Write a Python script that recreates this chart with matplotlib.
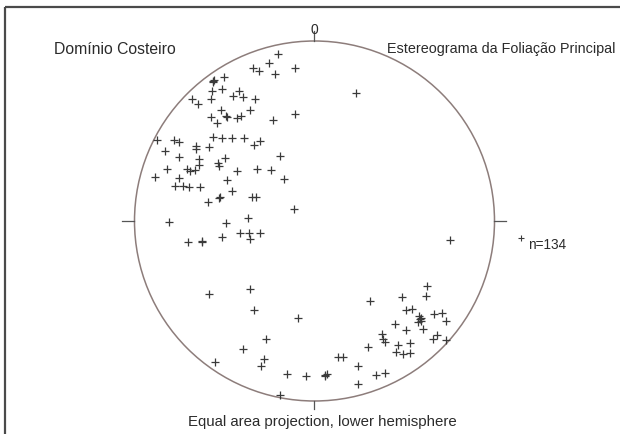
import numpy as np
import matplotlib.pyplot as plt
from matplotlib.patches import Circle

plt.rcParams['font.family'] = ['Liberation Sans', 'DejaVu Sans']

# Poles to the main foliation, equal-area projected coordinates
# (east, north), primitive circle radius R = 180
R = 180
east = [-36, -45, -19, -61, -55, -39, -100, -101, -90, -92,
        -102, -75, -81, -71, -59, -122, -116, -103, -93, -64,
        -103, -88, -77, -73, -97, -41, -19, -101, -92, -82,
        -70, -54, -60, -157, -140, -135, -118, -118, -105, -149,
        -135, -115, -89, -96, -95, -115, -147, -127, -124, -119,
        -77, -57, -43, -34, -159, -135, -30, -87, -139, -131,
        -125, -114, -82, -95, -94, -62, -58, -106, -20, -145,
        -88, -66, -92, -74, -65, -54, -64, -126, -112, -112,
        -105, -64, -60, -16, -48, -71, -50, -53, -99, -27,
        -8, 11, 13, 24, 29, 44, 44, 54, 56, -34,
        113, 112, 88, 92, 98, 105, 106, 107, 104, 120,
        128, 132, 81, 92, 109, 68, 69, 71, 119, 123,
        132, 84, 96, 82, 89, 96, 62, 71, 42, 136,
        -87, 107, 11, -101]
north = [167, 158, 153, 153, 150, 147, 141, 139, 144, 132,
         130, 130, 125, 124, 122, 122, 117, 122, 111, 111,
         104, 105, 103, 105, 98, 101, 107, 84, 83, 83,
         83, 80, 76, 81, 81, 79, 75, 72, 74, 70,
         64, 62, 63, 58, 55, 56, 52, 52, 50, 51,
         50, 52, 51, 65, 44, 43, 42, 41, 35, 35,
         34, 34, 30, 23, 24, 24, 24, 19, 12, -1,
         -2, 3, -16, -12, -12, -12, -18, -21, -20, -21,
         -73, -68, -89, -97, -118, -128, -138, -145, -141, -153,
         -155, -155, -153, -136, -136, -145, -163, -126, -80, -174,
         -65, -75, -76, -89, -88, -95, -98, -100, -101, -93,
         -92, -100, -103, -109, -108, -113, -118, -121, -118, -114,
         -119, -124, -122, -131, -133, -132, -154, -152, 128, -19,
         104, -97, -154, 140]

title_left = 'Domínio Costeiro'
title_right = 'Estereograma da Foliação Principal'
footer = 'Equal area projection, lower hemisphere'
count_label = 'n=%d' % len(east)

fig = plt.figure(figsize=(6.2, 4.35), dpi=100)
ax = fig.add_axes([0, 0, 1, 1])
ax.set_xlim(-314.5, 305.5)
ax.set_ylim(-213, 222)
ax.axis('off')

# frame (left and top edges visible)
ax.plot([-309.5, 305.5], [214, 214], color='#4a4a4a', lw=1.6, solid_capstyle='butt')
ax.plot([-309.5, -309.5], [214, -213], color='#4a4a4a', lw=1.6, solid_capstyle='butt')

# primitive circle and N/E/S/W ticks
circ_col = '#8d7d7b'
ax.add_patch(Circle((0, 0), R, fill=False, edgecolor=circ_col, lw=1.1))
ax.plot([0, 0], [R, R + 10], color='#555555', lw=0.9)
ax.plot([-R, -R - 12], [0, 0], color='#555555', lw=0.9)
ax.plot([R, R + 12], [0, 0], color='#555555', lw=0.9)
ax.plot([0, 0], [-R, -R - 8], color='#555555', lw=0.9)

ax.plot(east, north, linestyle='none', marker='+', markersize=5.5,
        markeredgewidth=0.9, color='#3a3a3a')

txt = '#2b2b2b'
ax.text(0, 192, '0', ha='center', va='center', fontsize=10, color=txt)
ax.text(-260.5, 173, title_left, ha='left', va='center', fontsize=11.3, color=txt)
ax.text(300.5, 173, title_right, ha='right', va='center', fontsize=10.4, color=txt)
ax.text(8, -200, footer, ha='center', va='center', fontsize=10.8, color=txt)

ax.plot([206], [-17], linestyle='none', marker='+', markersize=4.5,
        markeredgewidth=0.8, color='#3a3a3a')
ax.text(213.5, -23, count_label, ha='left', va='center', fontsize=9.8, color=txt)

plt.savefig('out.png', dpi=100)
